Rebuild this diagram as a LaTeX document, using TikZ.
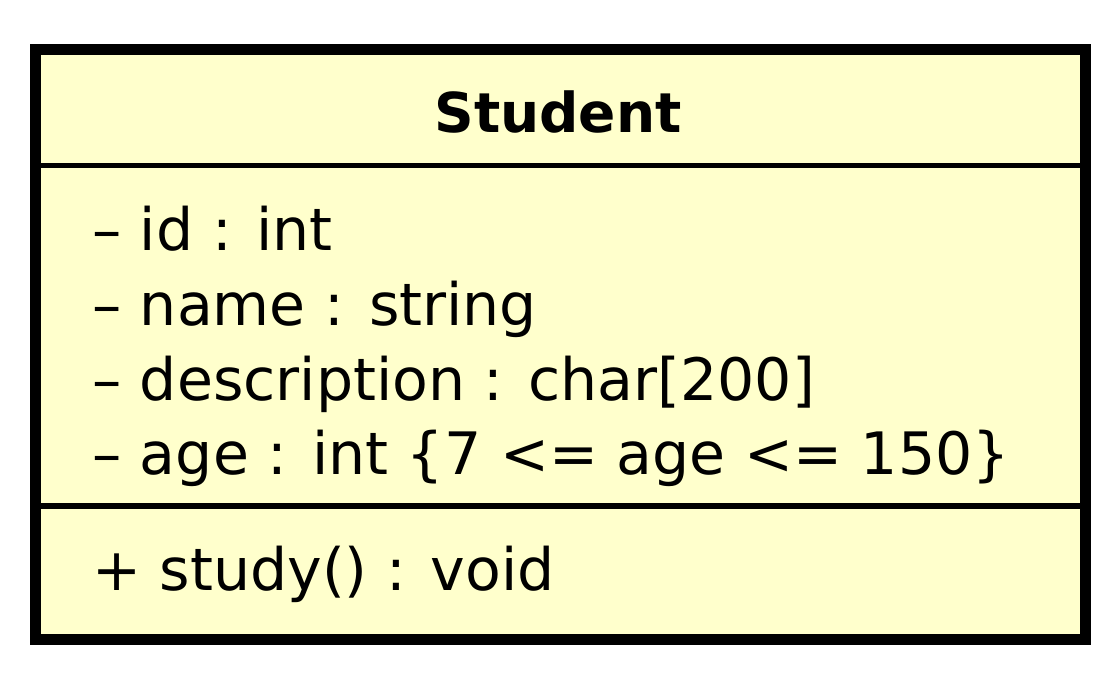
\documentclass[tikz,border=0pt]{standalone}
\usepackage{fontspec}
\setmainfont{DejaVu Sans}
\definecolor{classfill}{HTML}{FFFFCC}
\begin{document}
\begin{tikzpicture}[x=1pt,y=-1pt,
  member/.style={anchor=base west,inner sep=0pt,font=\fontsize{58.5}{58.5}\selectfont},
  title/.style={anchor=base,inner sep=0pt,font=\fontsize{55}{55}\selectfont\bfseries},
  sepline/.style={line width=5.5pt}]
\useasboundingbox (0,0) rectangle (1120,674);
\fill[white] (0,0) rectangle (1120,674);
\draw[line width=11pt,fill=classfill] (35.5,49.5) coordinate (tl) rectangle (1085.5,639.5) coordinate (br);
\coordinate (s1l) at (41,165.5); \coordinate (s1r) at (1080,165.5);
\coordinate (s2l) at (41,506); \coordinate (s2r) at (1080,506);
\draw[sepline] (s1l) -- (s1r);
\draw[sepline] (s2l) -- (s2r);
\node[title] (name) at (558,133) {Student};
\node[member] (a1) at (92,251) {– id : int};
\node[member] (a2) at (92,325) {– name : string};
\node[member] (a3) at (92,400) {– description : char[200]};
\node[member] (a4) at (92,474) {– age : int \{7 <= age <= 150\}};
\node[member] (m1) at (92,590) {+ study() : void};
\end{tikzpicture}
\end{document}
